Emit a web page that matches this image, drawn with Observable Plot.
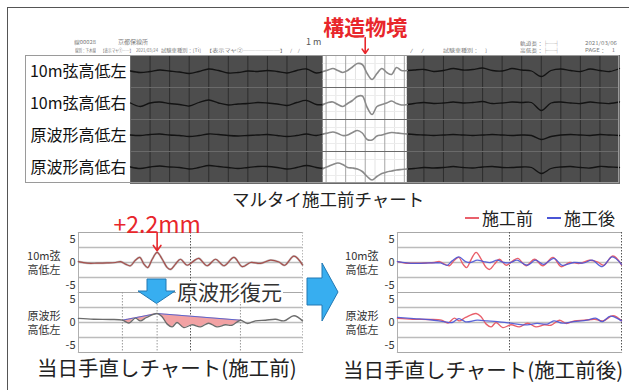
<!DOCTYPE html>
<html>
<head>
<meta charset="utf-8">
<script src="https://cdn.jsdelivr.net/npm/d3@7"></script>
<script src="https://cdn.jsdelivr.net/npm/@observablehq/plot@0.6"></script>
<style>
  body { margin: 0; background: #fff; font-family: "Noto Sans CJK JP", "Noto Sans", sans-serif; }
  #stage { position: relative; width: 629px; height: 390px; overflow: hidden; background: #fff; }
  .abs { position: absolute; white-space: nowrap; line-height: 1; }
  .hdr { position: absolute; white-space: nowrap; line-height: 1; color: #7a7a7a; transform-origin: 0 50%; }
  svg.layer { position: absolute; overflow: visible; }
</style>
</head>
<body>
<div id="stage"></div>
<script>
// ---------- recording chart (distance m, level mm) ----------
const rowNames = ["10m弦高低左", "10m弦高低右", "原波形高低左", "原波形高低右"];
const topDist = [0, 5, 10, 15, 20, 25, 30, 35, 40, 45, 50, 55, 60, 65, 70, 75, 80, 85, 90, 95,
  98.5, 101, 103.5, 106, 108.5, 111, 113.5, 116, 118.5, 121, 123.5, 126, 128.5, 131, 133.5, 136, 138.5, 141.5,
  145, 150, 155, 160, 165, 170, 175, 180, 185, 190, 195, 200, 205, 210, 215, 220, 225, 230, 235, 240, 245, 250];
const chordLeft = [0.5, -1, 0, 1.5, 0.5, -0.5, -2, 0, 2.5, 1, -1.5, -1, 0.5, 0, 1, 0, -1.5, 1, 2.5, -1.5,
  0, 1.5, 3, 1, -1, 1, 4.5, 8, 7, -2, -8, -2, 3, -1, -3, 4, 1, 1,
  1.5, 2, 0, 1, 3, 1.5, 2, 3.5, 1, 0.5, 3, 1.5, 0.5, -5, 1, 2.5, 1, 0, 2.5, 1, 0, 3];
const chordRight = [0.5, -3, 0.5, 1.5, 0, -1, -2.5, 1, 3.5, 0.5, -1.5, -0.5, 0, 1, 0.5, -0.5, -2, 1, 3, -1,
  -1, 1, 1.5, -1, -3, 0, 3, 7, 7.5, -4, -11, -3, -1, 0.5, 2.5, 0, -1.5, -1,
  0, 1, 0, 0.5, 1.5, 0.5, 1, 2, 0, 0.5, 1.5, 1, 1, -7, 0.5, 1.5, 0.5, 0, 1.5, 0.5, 0, 1.5];
const waveLeft = [0.5, 0, 1, 1.5, 0.5, 0, -1, 0, 1.5, 1, 0, -0.5, 0, 0.5, 1, 0, -1, 0, 1.5, 0,
  1.5, 2.5, 3.5, 2, 0, 0.5, 3, 5, 2.5, -4, -4.5, -0.5, 0.5, 2, 3, 2.5, 2, 1.5,
  1, 0.5, 0, 0.5, 1, 0.5, 0, 0.5, 1, 0.5, 0, 0.5, 0, -4, -1, 0.5, 1, 0.5, 0, 1, 0.5, 0];
const waveRight = [0.5, -1, 0.5, 1.5, 0.5, 0, -1.5, 0, 2, 1, 0, -1, 0, 1, 1, 0, -1.5, 0, 2, 0,
  -1, 1, 3, 4.5, 3, 0, -0.5, -1.5, -4, -9, -12.5, -9, -6, -4.5, -3.5, -2.5, -2, -1.5,
  -1, 0, -0.5, 0, 1, 0, -0.5, 0.5, 1, 0, 0, 0.5, 0, -6, -1, 0.5, 1, 0, -0.5, 1, 0.5, 0];
const structureWindow = [98.5, 141.5];
const structureLabel = "構造物境";
const chartLength = [0, 250];
const gridStep = 10;

// ---------- touch-up charts (distance m, level mm) ----------
const chordBeforeDist = [0, 3.9, 8.3, 12.8, 16.5, 18.8, 21, 23.2, 25.4, 27.4, 29.2, 30.9, 32.9, 35.1, 37.4, 39.6, 41.1,
  43.3, 45.5, 48.5, 51.5, 53.7, 57.4, 61.2, 64.9, 69.4, 73.1, 76.8, 81.3, 85.7, 89.5, 92, 96.2, 100];
const chordBefore = [0.2, -0.15, -0.15, -0.1, 0, 0.2, -0.35, -0.7, 0.5, 1.1, -0.35, -1.1, 0.7, 2.2, 0.7, -1.1, -1.5,
  -0.35, 0.7, -0.6, 0.35, 0.9, -0.7, 0.7, -0.7, 1.1, -0.9, 0, -0.2, 0.5, 0.1, -0.6, 1.4, -0.5];
const chordAfterDist = [0, 7.3, 14.7, 19.2, 22.2, 24.4, 27.4, 30.4, 32.6, 35.6, 38.5, 41.5, 44.5, 47.5, 50.5,
  53.4, 57.9, 61.6, 65.3, 69.8, 73.5, 78.7, 83.2, 86.9, 91.4, 95.8, 100];
const chordAfter = [0.2, -0.2, -0.1, -0.1, -0.6, 0.35, 1.2, 0.2, 0, 0.5, 0.2, 0, 0.5, 0, 0,
  0.5, -0.6, 0.5, -0.4, 0.9, -0.6, 0, -0.1, 0.5, -0.9, 1.2, -0.4];
const waveBeforeDist = [0, 6.8, 14.3, 19.6, 22.5, 25.4, 27.6, 30.4, 35.1, 37.4, 39.6, 41.8, 44, 47, 50.7, 54.4,
  58.1, 61.8, 65.6, 68.5, 72.3, 75.3, 79, 83.5, 88, 91.7, 96.2, 100];
const waveBefore = [0.9, 0.7, 0.65, 0.5, -0.1, 0.95, 0.35, 1.1, 1.95, 1.2, -0.35, -0.95, 0, -1.1, -0.5, -0.95,
  -0.15, -0.95, -0.5, -0.6, 0.5, -0.2, 0.35, 0.5, 0.7, 0.35, 1.45, 0.35];
const waveAfterDist = [0, 7.3, 14.7, 20.7, 24.4, 27.4, 30.4, 35.6, 40, 44.5, 49.7, 53.4, 57.9, 62.3, 66.8, 69.8,
  73.5, 78.7, 84.7, 88.4, 91.4, 95.1, 100];
const waveAfter = [1.1, 0.85, 0.6, 0.2, 0, 0.85, 0.15, 0.5, 0.35, 0.2, -0.1, -0.35, -0.5, -0.2, -0.35, 0.35,
  -0.15, 0.2, 0.5, 0.95, 0.2, 1.4, 0.35];
// restored (target) profile anchors for the original waveform
const restoreDist = [19.6, 35.1, 72.3];
const restoreLevel = [0.5, 1.95, 0.5];

const panelKeys = ["chord", "wave"];
const panelLabels = { chord: "10m弦\n高低左", wave: "原波形\n高低左" };
const yTicks = [-5, 0, 5];
const gridLevels = [-3.25, 0, 3.25];
const yDomain = [-6.5, 6.5];
const xDomain = [0, 100];
const centerMark = [50];
const legendItems = [{ name: "施工前", color: "#e9606b" }, { name: "施工後", color: "#4a55d6" }];

const FONT = '"Noto Sans CJK JP", "Noto Sans", sans-serif';
const RED = "#e8262b";
const stage = document.getElementById("stage");

function place(el, left, top) {
  el.classList.add("layer");
  el.style.left = left + "px";
  el.style.top = top + "px";
  stage.append(el);
}
function text(str, left, top, css) {
  const d = document.createElement("div");
  d.className = "abs";
  d.textContent = str;
  d.style.left = left + "px";
  d.style.top = top + "px";
  Object.assign(d.style, css || {});
  stage.append(d);
  return d;
}
// tiny sheet header text, squeezed into the width it occupies on the sheet
function hdr(str, left, centerY, width, size) {
  const d = document.createElement("div");
  d.className = "hdr";
  d.textContent = str;
  d.style.fontSize = "8px";
  d.style.left = left + "px";
  d.style.top = (centerY - 4) + "px";
  stage.append(d);
  const w = d.getBoundingClientRect().width;
  d.style.transform = `scale(${width / w}, ${size / 8})`;
  return d;
}

// page frame
const frameDiv = document.createElement("div");
Object.assign(frameDiv.style, { position: "absolute", left: "7px", top: "7px", width: "640px", height: "400px",
  borderTop: "1.5px solid #555", borderLeft: "1.5px solid #555" });
stage.append(frameDiv);

// ---------- recording chart ----------
const topRows = [chordLeft, chordRight, waveLeft, waveRight];
const topData = rowNames.flatMap((row, i) => topDist.map((d, j) => ({ row, d, v: topRows[i][j] })));
const inside = d => d >= structureWindow[0] && d <= structureWindow[1];
const outside = d => d <= structureWindow[0] || d >= structureWindow[1];
const majorTicks = d3.range(chartLength[0], chartLength[1] + 1, gridStep);
const minorTicks = d3.range(chartLength[0] + gridStep / 2, chartLength[1], gridStep);
const windowCenter = (structureWindow[0] + structureWindow[1]) / 2;
const yTop = [-16, 16];

const topChart = Plot.plot({
  width: 594, height: 168,
  marginLeft: 105, marginRight: 0, marginTop: 40, marginBottom: 0,
  style: { fontFamily: FONT, fontSize: "16px", background: "transparent", overflow: "visible", color: "#111" },
  x: { domain: chartLength, axis: null },
  y: { domain: yTop, axis: null },
  fy: { domain: rowNames, padding: 0, axis: "left", tickSize: 0, tickPadding: 4, label: null },
  marks: [
    Plot.frame({ fill: "#4d4d4d" }),
    Plot.rect([structureWindow], { x1: w => w[0], x2: w => w[1], fill: "#fff" }),
    Plot.ruleX(minorTicks.filter(d => d > structureWindow[0] && d < structureWindow[1]), { stroke: "#e3e3e3" }),
    Plot.ruleY([yTop[0] / 2, yTop[1] / 2], { x1: structureWindow[0], x2: structureWindow[1], stroke: "#ececec" }),
    Plot.ruleX(majorTicks.filter(d => !(d > structureWindow[0] && d < structureWindow[1])), { stroke: "#2d2d2d" }),
    Plot.ruleX(majorTicks.filter(d => d > structureWindow[0] && d < structureWindow[1]), { stroke: "#a4a4a4" }),
    Plot.frame({ stroke: "#6a6a6a" }),
    Plot.line(topData, { x: "d", y: p => outside(p.d) ? p.v : NaN, fy: "row", z: "row",
      stroke: "#131313", strokeWidth: 1.3, curve: "catmull-rom" }),
    Plot.line(topData, { x: "d", y: p => inside(p.d) ? p.v : NaN, fy: "row", z: "row",
      stroke: "#8a8a8a", strokeWidth: 1.6, curve: "catmull-rom" }),
    Plot.text([{ row: rowNames[0], x: windowCenter, label: structureLabel }], {
      x: "x", fy: "row", text: "label", frameAnchor: "top", lineAnchor: "middle", dy: -27,
      fill: RED, fontSize: 21, fontWeight: "bold" }),
    Plot.arrow([{ row: rowNames[0], x: windowCenter }], {
      x1: "x", x2: "x", y1: yTop[1] * 2 + 2, y2: yTop[1] + 2, fy: "row",
      stroke: RED, strokeWidth: 1.6, headLength: 8, headAngle: 70 })
  ]
});
place(topChart, 25, 15);

// label column / panel border
const panelBorder = document.createElement("div");
Object.assign(panelBorder.style, { position: "absolute", left: "25px", top: "55px", width: "594px", height: "128px",
  border: "1px solid #9a9a9a", boxSizing: "border-box", pointerEvents: "none" });
stage.append(panelBorder);

// header of the recording sheet
hdr("線00028", 74, 42, 22, 5);
hdr("京都保線所", 118, 42, 30, 5.5);
hdr("線別：下木線", 75, 50, 21, 4.5);
hdr("【表示マヤ①──】", 101, 50, 32, 4.5);
hdr("2021/03/24", 136, 50, 22, 4.5);
hdr("試験車種別：[Ti]", 161, 50, 40, 4.5);
hdr("【表示マヤ②──────】", 206, 50, 80, 4.5);
hdr("/　/", 290, 50, 10, 4.5);
text("1 m", 306, 37, { fontSize: "9px", color: "#555" });
hdr("/　/", 410, 50, 14, 4.5);
hdr("試験車種別：　]", 443, 50, 44, 4.5);
hdr("軌道長：├─┤", 520, 43, 40, 5);
hdr("高低長：├─┤", 520, 50, 40, 5);
hdr("2021/03/06", 585, 43, 32, 5);
hdr("PAGE：　1", 585, 50, 30, 5);

text("マルタイ施工前チャート", 232, 190, { fontSize: "17.5px", color: "#222" });

// ---------- touch-up charts ----------
const series = (panel, dist, vals, kind) => dist.map((d, i) => ({ panel, d, v: vals[i], kind }));
const chordB = series("chord", chordBeforeDist, chordBefore, "施工前");
const chordA = series("chord", chordAfterDist, chordAfter, "施工後");
const waveB = series("wave", waveBeforeDist, waveBefore, "施工前");
const waveA = series("wave", waveAfterDist, waveAfter, "施工後");
const restoreAt = d3.scaleLinear().domain(restoreDist).range(restoreLevel);
const fillData = waveB.filter(p => p.d >= restoreDist[0] && p.d <= restoreDist[restoreDist.length - 1])
  .map(p => ({ ...p, r: restoreAt(p.d) }));
const restoreLine = restoreDist.map((d, i) => ({ panel: "wave", d, v: restoreLevel[i] }));
const peak = [chordB.reduce((a, b) => (b.v > a.v ? b : a))];

function frameMarks(edgeStroke) {
  return [
    Plot.ruleY(gridLevels, { stroke: "#bcbcbc", strokeWidth: 1.5 }),
    Plot.frame({ anchor: "top", stroke: "#a8a8a8", strokeWidth: 1.2 }),
    Plot.frame({ anchor: "bottom", stroke: "#a8a8a8", strokeWidth: 1.2 }),
    Plot.frame({ anchor: "left", stroke: "#b0b0b0" }),
    Plot.ruleX([xDomain[1]], { stroke: edgeStroke, strokeDasharray: "1.5,1.5" }),
    Plot.ruleX(centerMark, { stroke: "#555", strokeDasharray: "1.5,1.5" })
  ];
}
function axes(fyPadding) {
  return [
    Plot.axisY({ ticks: yTicks, tickSize: 0, tickPadding: 3, fontSize: 11, fill: "#333",
      tickFormat: d => String(d), label: null }),
    Plot.axisFy({ anchor: "left", tickSize: 0, tickPadding: fyPadding, fontSize: 11, fill: "#333",
      tickFormat: k => panelLabels[k], label: null, lineHeight: 1.25 })
  ];
}
function chart(width, marginLeft, marks) {
  return Plot.plot({
    width, height: 147,
    marginLeft, marginRight: width - marginLeft - 224, marginTop: 27, marginBottom: 0,
    style: { fontFamily: FONT, background: "transparent", overflow: "visible" },
    x: { domain: xDomain, axis: null },
    y: { domain: yDomain, axis: null },
    fy: { domain: panelKeys, padding: 0, axis: null },
    marks
  });
}

const leftChart = chart(310, 78, [
  ...frameMarks("#b8b8b8"),
  Plot.ruleX(restoreDist.map(d => ({ panel: "wave", d })), { x: "d", fy: "panel", stroke: "#9a9a9a", strokeDasharray: "1.5,1.5" }),
  Plot.areaY(fillData, { x: "d", y1: "v", y2: "r", fy: "panel", fill: "#f2a2a4", curve: "catmull-rom" }),
  Plot.line(restoreLine, { x: "d", y: "v", fy: "panel", stroke: "#5b66cf", strokeWidth: 1 }),
  Plot.line(chordB, { x: "d", y: "v", fy: "panel", stroke: "#8f8f8f", strokeWidth: 2.2, strokeOpacity: 0.5, curve: "catmull-rom" }),
  Plot.line(chordB, { x: "d", y: "v", fy: "panel", stroke: "#a64f4c", strokeWidth: 1.2, curve: "catmull-rom" }),
  Plot.line(waveB, { x: "d", y: "v", fy: "panel", stroke: "#6c6c6c", strokeWidth: 1.4, curve: "catmull-rom" }),
  Plot.arrow(peak, { x1: "d", x2: "d", y1: yDomain[1], y2: "v", fy: "panel", insetEnd: 1.5,
    stroke: RED, strokeWidth: 1.6, headLength: 8, headAngle: 70 }),
  Plot.text(peak, { x: "d", fy: "panel", text: p => `+${p.v.toFixed(1)}mm`, frameAnchor: "top", lineAnchor: "middle",
    dy: -7, fill: RED, fontSize: 23 }),
  ...axes(18)
]);
place(leftChart, 0, 205);

const rightChart = chart(299, 67, [
  ...frameMarks("#555"),
  Plot.line([...chordB, ...waveB], { x: "d", y: "v", fy: "panel", z: "panel", stroke: legendItems[0].color,
    strokeWidth: 1.4, curve: "catmull-rom" }),
  Plot.line([...chordA, ...waveA], { x: "d", y: "v", fy: "panel", z: "panel", stroke: legendItems[1].color,
    strokeWidth: 1.3, strokeOpacity: 0.9, curve: "catmull-rom" }),
  ...axes(19)
]);
place(rightChart, 330, 205);

// legend
legendItems.forEach((it, i) => {
  const x = 465 + i * 82;
  const dash = document.createElement("div");
  Object.assign(dash.style, { position: "absolute", left: x + "px", top: "217px", width: "14px", height: "2px", background: it.color });
  stage.append(dash);
  text(it.name, x + 17, 209, { fontSize: "17px", color: "#222" });
});

// block arrows
function blockArrow(points, fill, stroke) {
  const svg = d3.create("svg").attr("width", 629).attr("height", 390)
    .style("position", "absolute").style("left", "0px").style("top", "0px").style("pointer-events", "none");
  svg.append("polygon").attr("points", points.map(p => p.join(",")).join(" "))
    .attr("fill", fill).attr("stroke", stroke).attr("stroke-width", 1).attr("stroke-linejoin", "miter");
  stage.append(svg.node());
}
text("原波形復元", 176, 281, { fontSize: "21px", color: "#333", background: "#fff", padding: "0 1px" });
blockArrow([[147, 279], [166, 279], [166, 291], [175, 291], [156.5, 303.5], [138, 291], [147, 291]], "#37aef0", "#2379b3");
blockArrow([[307, 278], [322, 278], [322, 263], [338, 292], [322, 321], [322, 305], [307, 305]], "#37aef0", "#2379b3");

// captions
text("当日手直しチャート(施工前)", 37, 357, { fontSize: "20.5px", color: "#222" });
text("当日手直しチャート(施工前後)", 343, 359, { fontSize: "20.5px", color: "#222" });
</script>
</body>
</html>
